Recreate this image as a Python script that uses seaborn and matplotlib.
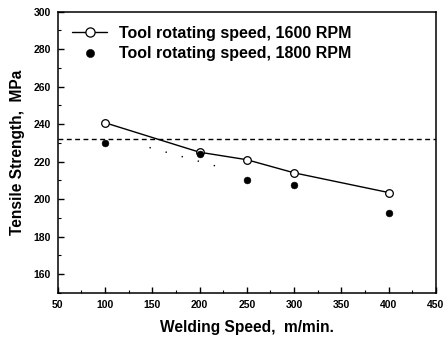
import matplotlib
matplotlib.use("Agg")
import matplotlib.pyplot as plt
import seaborn as sns
import pandas as pd
from matplotlib.ticker import MultipleLocator

speed = [100, 200, 250, 300, 400]
ts_1600 = [240.7, 225.0, 221.0, 214.0, 203.5]
ts_1800 = [230.0, 224.0, 210.0, 207.5, 192.5]
ref_level = 232.0
dot_x = [147, 226]
dot_y = [227.5, 216.4]

sns.set_theme(style="ticks")
plt.rcParams['font.family'] = ['Liberation Sans', 'DejaVu Sans']
plt.rcParams['font.weight'] = 'bold'
plt.rcParams['text.color'] = 'black'
plt.rcParams['axes.labelcolor'] = 'black'
plt.rcParams['xtick.color'] = 'black'
plt.rcParams['ytick.color'] = 'black'

fig = plt.figure(figsize=(4.48, 3.39), dpi=100)
ax = fig.add_axes([0.129, 0.136, 0.844, 0.830])

df1 = pd.DataFrame({"x": speed, "y": ts_1600})
df2 = pd.DataFrame({"x": speed, "y": ts_1800})

ax.axhline(ref_level, color="black", lw=1.0, ls=(0, (3.5, 2.5)), zorder=1)
ax.plot(dot_x, dot_y, color="black", lw=1.0, ls=(0, (1, 11)), zorder=1)

sns.lineplot(data=df1, x="x", y="y", ax=ax, color="black", lw=1.0,
             marker="o", markersize=5.5, markerfacecolor="white",
             markeredgecolor="black", markeredgewidth=0.9,
             label="Tool rotating speed, 1600 RPM", zorder=3)
sns.scatterplot(data=df2, x="x", y="y", ax=ax, color="black", s=24,
                edgecolor="black", label="Tool rotating speed, 1800 RPM", zorder=3)

ax.set_xlim(50, 450)
ax.set_ylim(150, 300)
ax.xaxis.set_major_locator(MultipleLocator(50))
ax.xaxis.set_minor_locator(MultipleLocator(25))
ax.yaxis.set_major_locator(MultipleLocator(20))
ax.yaxis.set_minor_locator(MultipleLocator(10))
ax.tick_params(which="major", direction="in", length=4, width=1.0, labelsize=7.5,
               top=False, right=False, pad=5)
ax.tick_params(which="minor", direction="in", length=2.5, width=0.8,
               top=False, right=False)
for lab in ax.get_xticklabels() + ax.get_yticklabels():
    lab.set_fontweight("bold")
for sp in ax.spines.values():
    sp.set_linewidth(1.1)
    sp.set_color("black")

ax.set_xlabel("Welding Speed,  m/min.", fontsize=11.2, fontweight="bold", labelpad=7)
ax.set_ylabel("Tensile Strength,  MPa", fontsize=11.2, fontweight="bold", labelpad=6)

leg = ax.legend(loc="upper left", frameon=False,
                handlelength=2.2, borderaxespad=0.5, labelspacing=0.3,
                handletextpad=0.75, markerscale=1.2,
                prop={"weight": "bold", "size": 11.5})

fig.savefig("out.png", dpi=100)
